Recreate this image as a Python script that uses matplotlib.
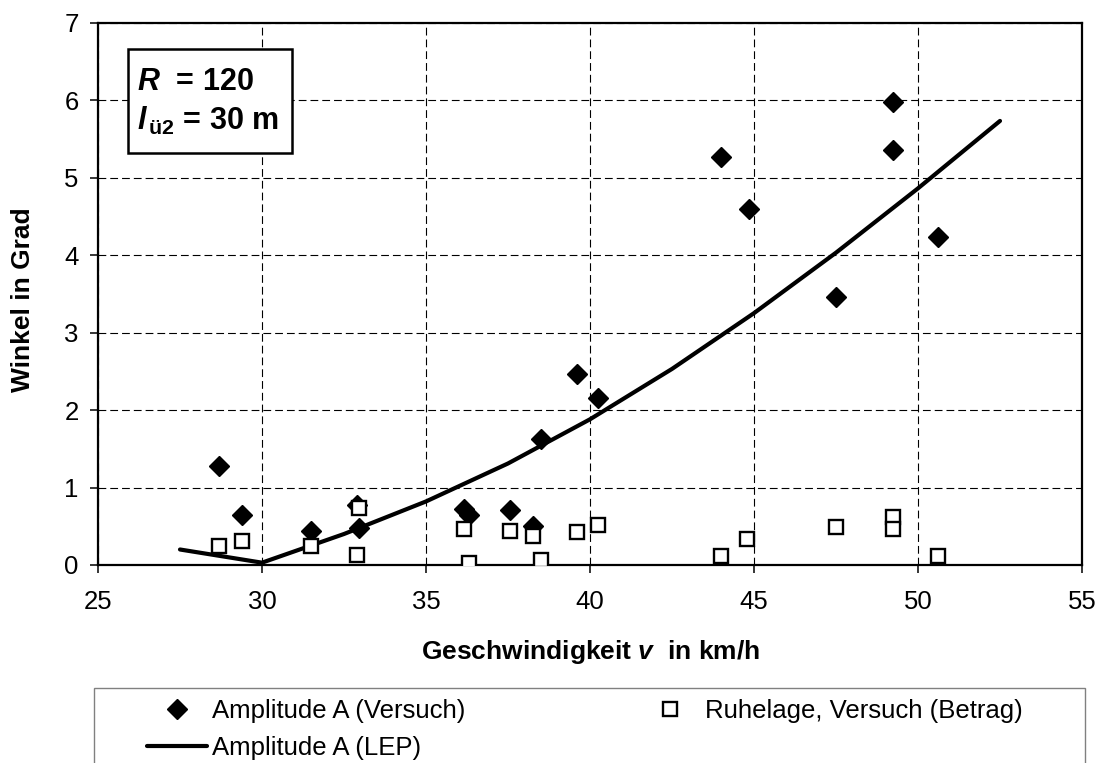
import matplotlib
matplotlib.use("Agg")
import matplotlib.pyplot as plt
from matplotlib.patches import Rectangle

plt.rcParams["font.family"] = ["Liberation Sans", "DejaVu Sans"]
plt.rcParams["mathtext.fontset"] = "custom"
plt.rcParams["mathtext.it"] = "Liberation Sans:italic:bold"
plt.rcParams["mathtext.rm"] = "Liberation Sans:bold"
plt.rcParams["mathtext.bf"] = "Liberation Sans:bold"

# Test runs: amplitude A (Versuch)
v_amp = [28.7, 29.4, 31.5, 32.9, 32.95, 36.15, 36.3, 37.55, 38.25, 38.5,
         39.6, 40.25, 44.0, 44.85, 47.5, 49.25, 49.25, 50.6]
amp = [1.28, 0.65, 0.44, 0.78, 0.48, 0.72, 0.65, 0.71, 0.50, 1.62,
       2.46, 2.15, 5.26, 4.60, 3.46, 5.98, 5.36, 4.23]

# Test runs: rest position (absolute value)
v_ruhe = [28.7, 29.4, 31.5, 32.95, 32.9, 36.15, 36.3, 37.55, 38.25, 38.5,
          39.6, 40.25, 44.0, 44.8, 47.5, 49.25, 49.25, 50.6]
ruhe = [0.25, 0.31, 0.25, 0.73, 0.13, 0.46, 0.02, 0.44, 0.37, 0.065,
        0.42, 0.51, 0.12, 0.34, 0.49, 0.62, 0.47, 0.12]

# LEP calculation: amplitude A
v_lep = [27.5, 30, 32.5, 35, 37.5, 40, 42.5, 45, 47.5, 50, 52.5]
a_lep = [0.20, 0.03, 0.40, 0.82, 1.31, 1.88, 2.53, 3.25, 4.03, 4.86, 5.73]

x_ticks = [25, 30, 35, 40, 45, 50, 55]
y_ticks = [0, 1, 2, 3, 4, 5, 6, 7]

W, H = 1099, 763
fig = plt.figure(figsize=(W / 100, H / 100), dpi=100)
ax = fig.add_axes([98 / W, (H - 565) / H, (1082 - 98) / W, (565 - 22.5) / H])

ln, = ax.plot(v_lep, a_lep, color="black", lw=3.0, solid_capstyle="round",
              zorder=3, label="Amplitude A (LEP)")
dm, = ax.plot(v_amp, amp, linestyle="none", marker="D", ms=10, color="black",
              zorder=4, label="Amplitude A (Versuch)")
sq, = ax.plot(v_ruhe, ruhe, linestyle="none", marker="s", ms=10.5,
              mfc="white", mec="black", mew=1.7, zorder=5,
              label="Ruhelage, Versuch (Betrag)")

ax.set_xlim(x_ticks[0], x_ticks[-1])
ax.set_ylim(y_ticks[0], y_ticks[-1])
ax.set_xticks(x_ticks)
ax.set_yticks(y_ticks)
ax.grid(True, color="black", lw=0.8, linestyle=(0, (7, 3.6)))
ax.set_axisbelow(True)
for s in ax.spines.values():
    s.set_linewidth(1.6)
ax.tick_params(direction="out", length=6, width=1.1, labelsize=18.5,
               top=False, right=False)
ax.tick_params(axis="x", pad=12)
ax.tick_params(axis="y", pad=8)

ax.set_xlabel(r"Geschwindigkeit $v$  in km/h", fontsize=19, fontweight="bold")
ax.xaxis.set_label_coords(0.5, (565 - 638) / 542.5)
fig.text(23 / W, 1 - 300 / H, "Winkel in Grad", rotation=90, fontsize=19,
         fontweight="bold", ha="center", va="center")

# Parameter box
ax.add_patch(Rectangle((30 / 984, (565 - 153) / 542.5), 164 / 984, 104 / 542.5,
                       transform=ax.transAxes, facecolor="white",
                       edgecolor="black", lw=1.8, zorder=6))
ax.text(38.7 / 984, (565 - 90) / 542.5, r"$R$  = 120", transform=ax.transAxes,
        fontsize=22, fontweight="bold", ha="left", va="baseline", zorder=7)
ax.text(38.7 / 984, (565 - 129.5) / 542.5, r"$l_{\,\mathrm{ü2}}$ = 30 m",
        transform=ax.transAxes, fontsize=22, fontweight="bold", ha="left",
        va="baseline", zorder=7)

# Legend below the plot
fig.patches.append(Rectangle((94 / W, -0.05), (1085 - 94) / W, 1 - 688 / H + 0.05,
                             transform=fig.transFigure, facecolor="white",
                             edgecolor="#808080", lw=1.0, zorder=0))
fig.legend(handles=[dm, ln, sq], ncol=2, loc="upper left",
           bbox_to_anchor=(147 / W, 1 - 699 / H), frameon=False,
           fontsize=18.5, borderpad=0, borderaxespad=0, handlelength=2.33,
           handletextpad=0.2, columnspacing=6.8, labelspacing=0.5,
           numpoints=1)

fig.savefig("out.png", dpi=100)
